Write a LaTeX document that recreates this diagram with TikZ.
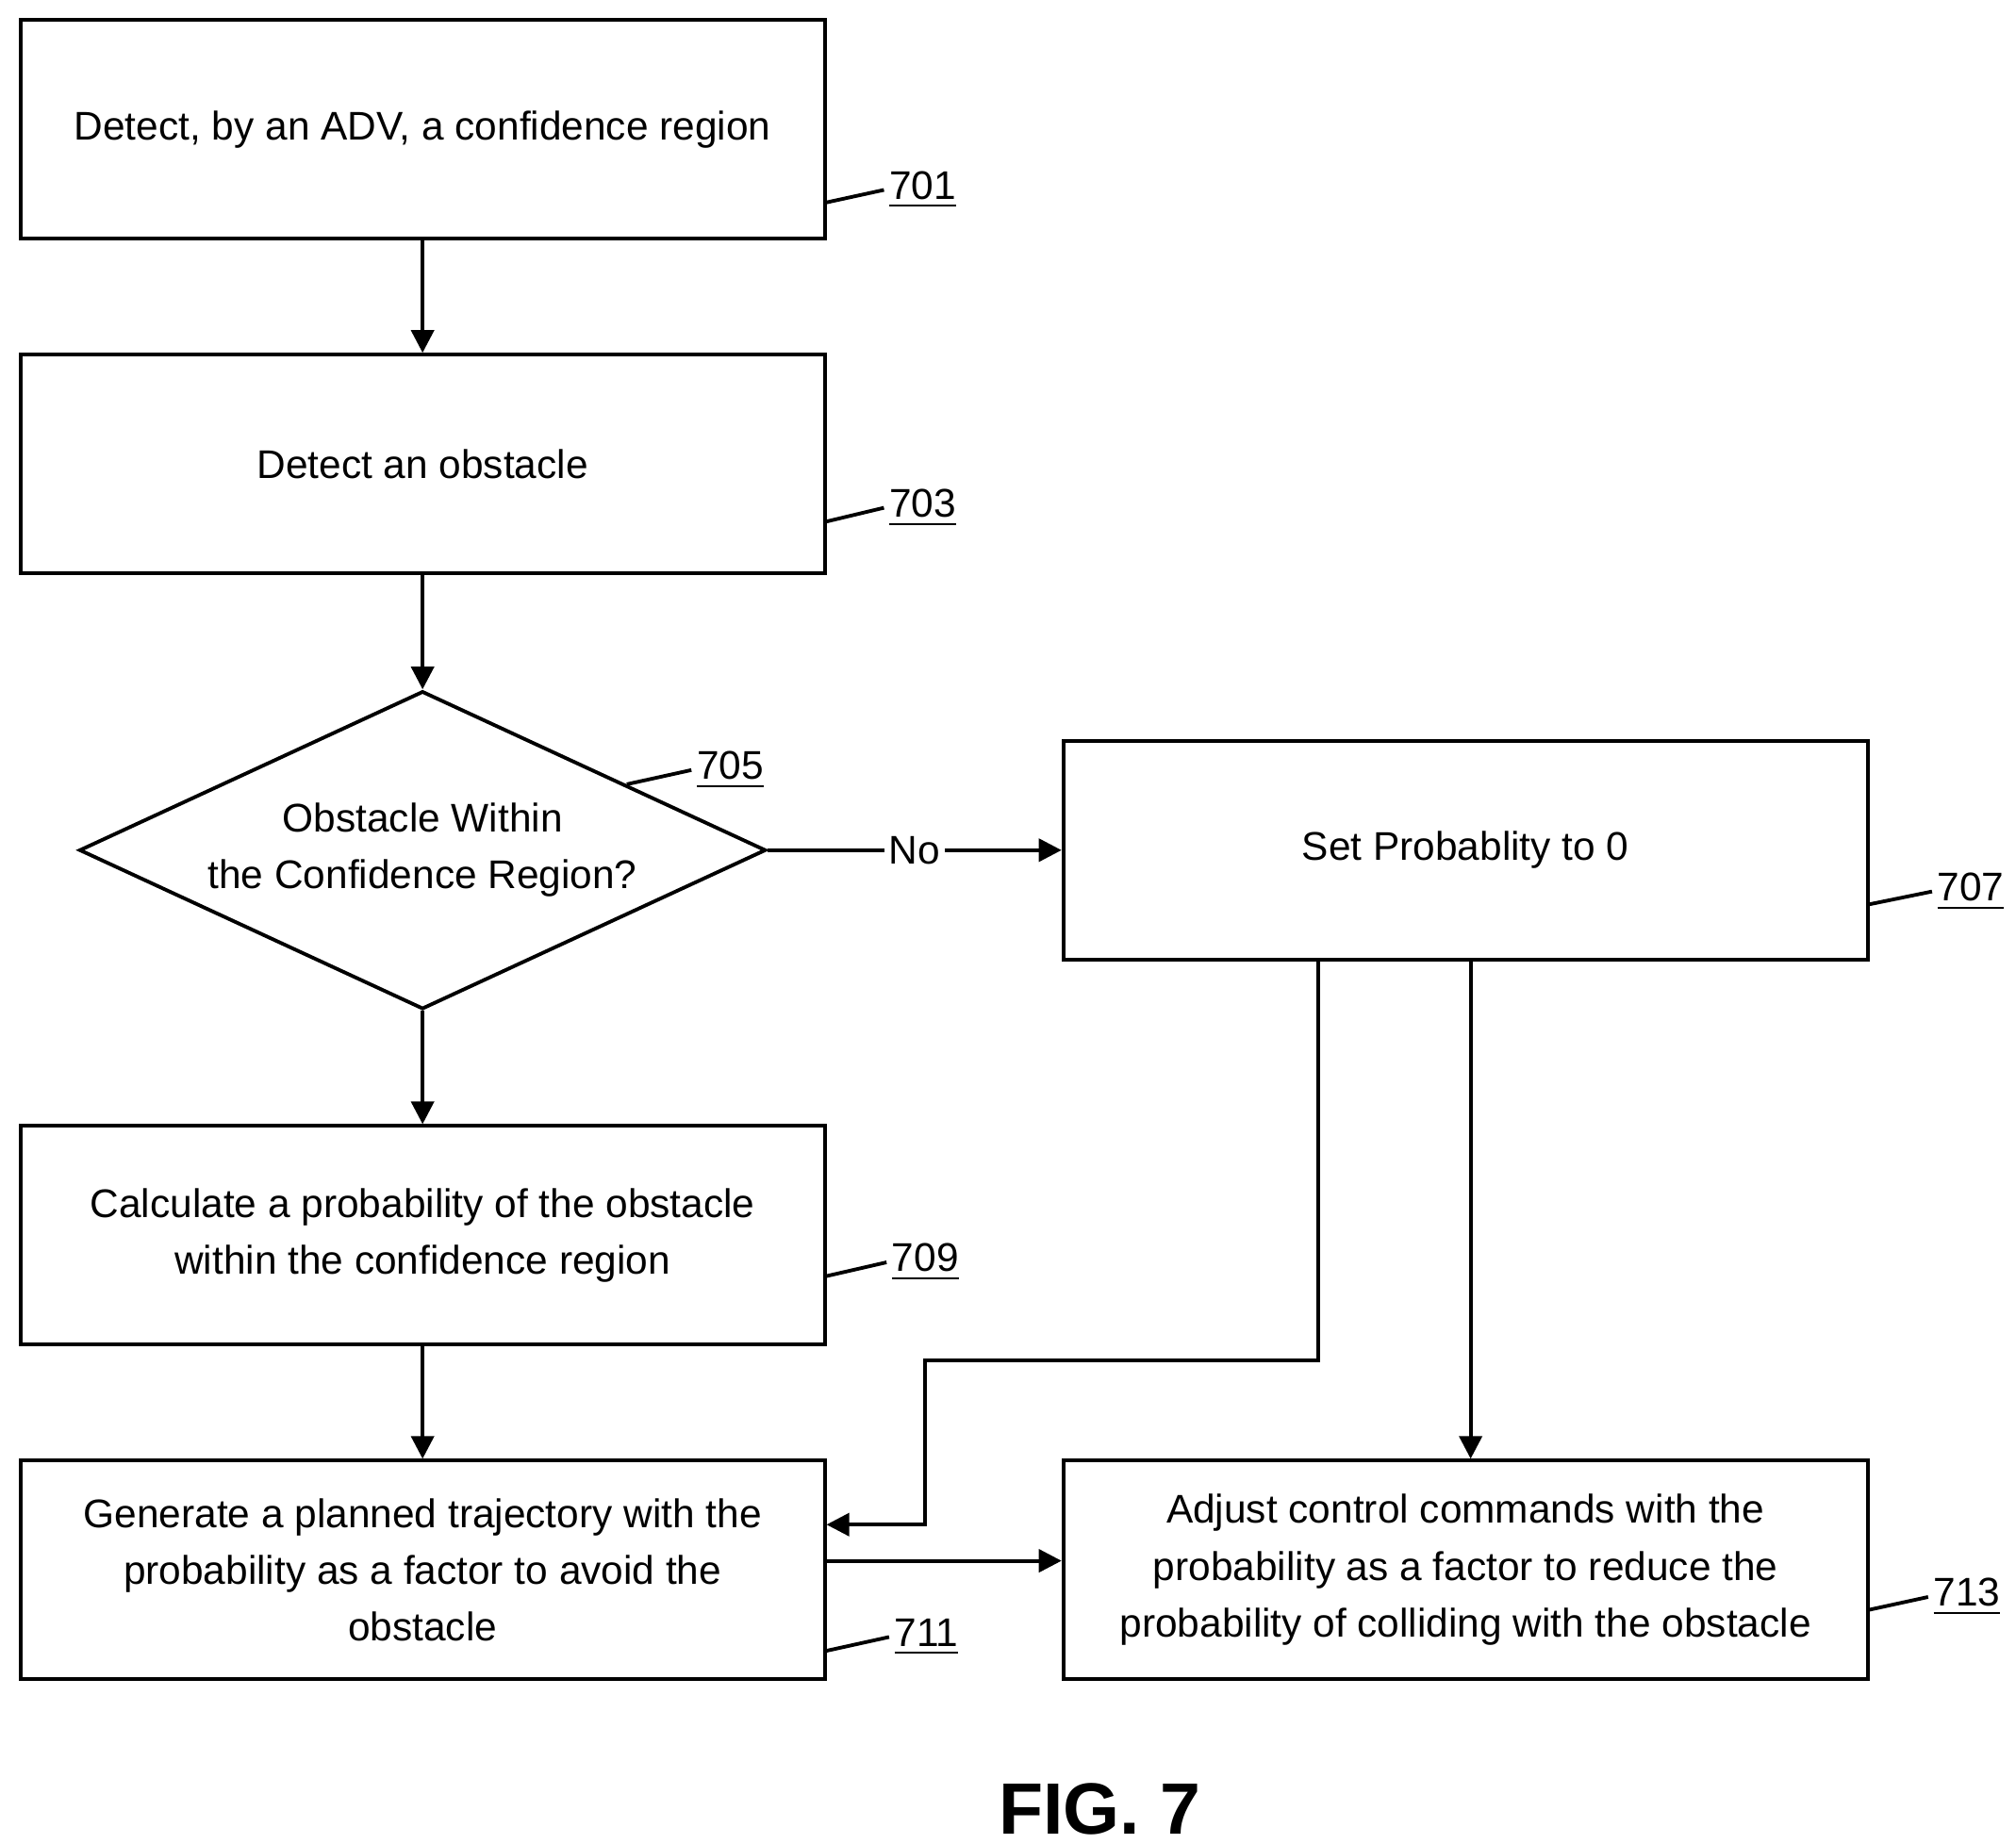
\documentclass[tikz,border=0pt]{standalone}
\usepackage{fontspec}
\setmainfont{Liberation Sans}
\usetikzlibrary{shapes.geometric,arrows.meta}

\begin{document}
\begin{tikzpicture}[x=0.01cm,y=-0.01cm,
    box/.style={draw,line width=0.8pt,minimum width=6.22cm,minimum height=1.69cm,
      inner sep=0pt,align=center,font=\fontsize{8.8}{12.5}\selectfont},
    dia/.style={draw,diamond,line width=0.8pt,aspect=2.16,minimum width=5.31cm,
      minimum height=2.46cm,inner sep=0pt,align=center,font=\fontsize{8.8}{12.5}\selectfont},
    ref/.style={font=\fontsize{8.8}{10}\selectfont,anchor=west,inner sep=1pt},
    arr/.style={-{Triangle[length=5pt,width=5pt]},line width=0.8pt}]
  \useasboundingbox (0,0) rectangle (1560,1427);
  % steps
  \node[box] (b701) at (327,100) {Detect, by an ADV, a confidence region};
  \node[box] (b703) at (327,359) {Detect an obstacle};
  \node[dia] (b705) at (327,658) {Obstacle Within\\the Confidence Region?};
  \node[box] (b707) at (1134,658) {Set Probablity to 0};
  \node[box] (b709) at (327,956) {Calculate a probability of the obstacle\\within the confidence region};
  \node[box] (b711) at (327,1215) {Generate a planned trajectory with the\\probability as a factor to avoid the\\obstacle};
  \node[box] (b713) at (1134,1215) {Adjust control commands with the\\probability as a factor to reduce the\\probability of colliding with the obstacle};
  % reference numerals
  \node[ref] (r701) at (684,147) {\underline{701}};
  \node[ref] (r703) at (684,393) {\underline{703}};
  \node[ref] (r705) at (535,596) {\underline{705}};
  \node[ref] (r707) at (1495,690) {\underline{707}};
  \node[ref] (r709) at (686,977) {\underline{709}};
  \node[ref] (r711) at (688,1267) {\underline{711}};
  \node[ref] (r713) at (1492,1236) {\underline{713}};
  \draw[line width=0.8pt] (638,157) -- (r701.west);
  \draw[line width=0.8pt] (638,404) -- (r703.west);
  \draw[line width=0.8pt] (485,607) -- (r705.west);
  \draw[line width=0.8pt] (1446,700) -- (r707.west);
  \draw[line width=0.8pt] (638,988) -- (r709.west);
  \draw[line width=0.8pt] (638,1278) -- (r711.west);
  \draw[line width=0.8pt] (1446,1246) -- (r713.west);
  % flow
  \draw[arr] (b701) -- (b703);
  \draw[arr] (b703) -- (b705);
  \draw[arr] (b705) -- (b709);
  \draw[arr] (b709) -- (b711);
  \draw[arr] (b705.east) -- node[fill=white,inner sep=1pt,font=\fontsize{8.8}{10}\selectfont] {No} (b707.west);
  \coordinate (c1) at (1020,1053);
  \coordinate (c2) at (716,1053);
  \draw[arr] (b707.south -| c1) -- (c1) -- (c2) -- (716,1180) -- (b711.east |- 0,1180);
  \draw[arr] (b707.south -| 1138,0) -- (b713.north -| 1138,0);
  \draw[arr] (b711.east |- 0,1208) -- (b713.west |- 0,1208);
  \node[font=\fontsize{16}{18}\selectfont\bfseries] (fig) at (851,1400) {FIG. 7};
\end{tikzpicture}
\end{document}
